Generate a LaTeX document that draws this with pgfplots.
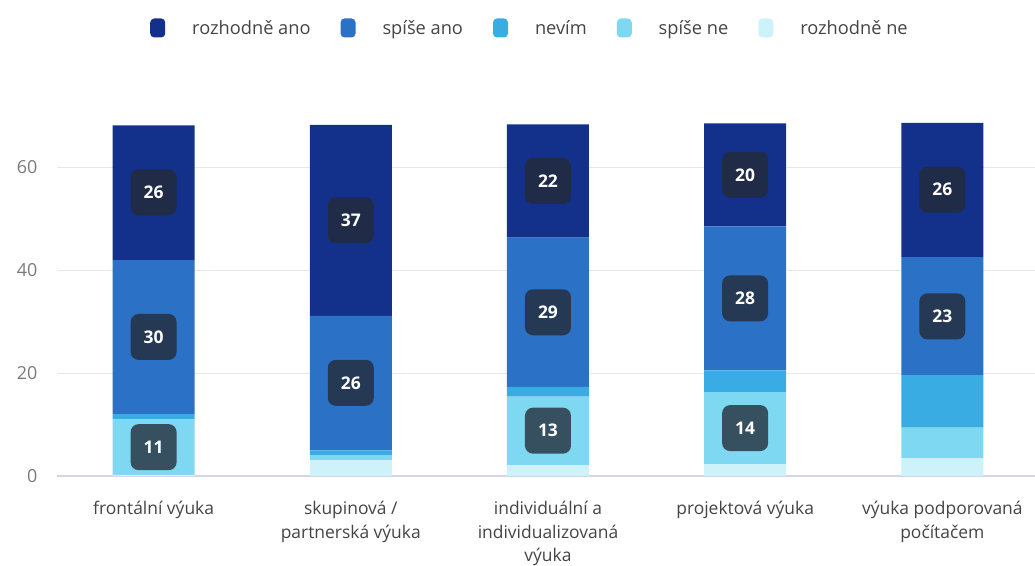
\documentclass[border=0pt]{standalone}
\usepackage{pgfplots}
\pgfplotsset{compat=1.18}
\usepackage{fontspec}
\setmainfont{Open Sans}
\definecolor{c1}{HTML}{13318A}
\definecolor{c2}{HTML}{2B71C5}
\definecolor{c3}{HTML}{39ACE3}
\definecolor{c4}{HTML}{7FD8F2}
\definecolor{c5}{HTML}{CDF2FA}
\definecolor{gridc}{HTML}{E8E8EC}
\definecolor{zeroc}{HTML}{D3D6E8}
\definecolor{boxc}{HTML}{242A36}
\definecolor{tickc}{HTML}{7A7A7A}
\definecolor{labc}{HTML}{444444}
\begin{document}
\begin{tikzpicture}
\path[use as bounding box] (0,0) rectangle (1035bp,566bp);
\begin{axis}[
  at={(57bp,90bp)}, anchor=south west,
  scale only axis, width=978bp, height=355.3bp,
  ybar stacked, bar width=0.416,
  xmin=-0.49, xmax=4.47, ymin=0, ymax=69,
  xtick={0,1,2,3,4},
  xticklabels={frontální výuka, skupinová /\\partnerská výuka, individuální a\\individualizovaná\\výuka, projektová výuka, výuka podporovaná\\počítačem},
  xticklabel style={align=center, text=labc, font=\fontsize{17.5}{23.5}\selectfont, yshift=-22bp},
  ytick={20,40,60},
  extra y ticks={0},
  extra y tick style={grid style={color=zeroc, line width=1.6bp}},
  yticklabel style={text=tickc, font=\fontsize{18}{20}\selectfont, xshift=-16bp},
  ymajorgrids, grid style={color=gridc, line width=1bp},
  major tick style={draw=none}, axis line style={draw=none},
  /pgf/number format/assume math mode=true,
  reverse legend,
  legend style={at={(0.4836,1.261)}, anchor=center, draw=none, fill=none,
    legend columns=5, font=\fontsize{18.3}{20}\selectfont, text=labc,
    /tikz/every odd column/.append style={column sep=25bp},
    /tikz/every even column/.append style={column sep=28bp}},
  legend cell align=left,
]
\addplot[fill=c5, draw=none, legend image code/.code={\fill[c5,rounded corners=4bp] (0bp,-9.5bp) rectangle (15bp,9.5bp);}] coordinates {(0,0.2) (1,3.1) (2,2.1) (3,2.3) (4,3.4)};
\addlegendentry{rozhodně ne}
\addplot[fill=c4, draw=none, legend image code/.code={\fill[c4,rounded corners=4bp] (0bp,-9.5bp) rectangle (15bp,9.5bp);}] coordinates {(0,10.8) (1,1.0) (2,13.3) (3,14) (4,6)};
\addlegendentry{spíše ne}
\addplot[fill=c3, draw=none, legend image code/.code={\fill[c3,rounded corners=4bp] (0bp,-9.5bp) rectangle (15bp,9.5bp);}] coordinates {(0,1.0) (1,0.9) (2,1.9) (3,4.2) (4,10.2)};
\addlegendentry{nevím}
\addplot[fill=c2, draw=none, legend image code/.code={\fill[c2,rounded corners=4bp] (0bp,-9.5bp) rectangle (15bp,9.5bp);}] coordinates {(0,29.9) (1,26.1) (2,29) (3,28) (4,22.9)};
\addlegendentry{spíše ano}
\addplot[fill=c1, draw=none, legend image code/.code={\fill[c1,rounded corners=4bp] (0bp,-9.5bp) rectangle (15bp,9.5bp);}] coordinates {(0,26.2) (1,37.1) (2,22) (3,20) (4,26.1)};
\addlegendentry{rozhodně ano}
\end{axis}
\begin{axis}[
  at={(57bp,90bp)}, anchor=south west,
  scale only axis, width=978bp, height=355.3bp,
  xmin=-0.49, xmax=4.47, ymin=0, ymax=69,
  hide axis,
]
\addplot[draw=none, mark=none, nodes near coords, point meta=explicit symbolic,
  nodes near coords style={anchor=center, fill=boxc, fill opacity=0.78, text opacity=1,
    text=white, rounded corners=8bp, minimum width=46bp, minimum height=46bp, inner sep=0pt,
    font=\fontsize{17.5}{18}\selectfont\bfseries}]
coordinates {
 (0,55.1)[26] (0,27.0)[30] (0,5.6)[11]
 (1,49.7)[37] (1,18.1)[26]
 (2,57.3)[22] (2,31.8)[29] (2,8.8)[13]
 (3,58.5)[20] (3,34.5)[28] (3,9.3)[14]
 (4,55.6)[26] (4,31.0)[23]
};
\end{axis}
\end{tikzpicture}
\end{document}
